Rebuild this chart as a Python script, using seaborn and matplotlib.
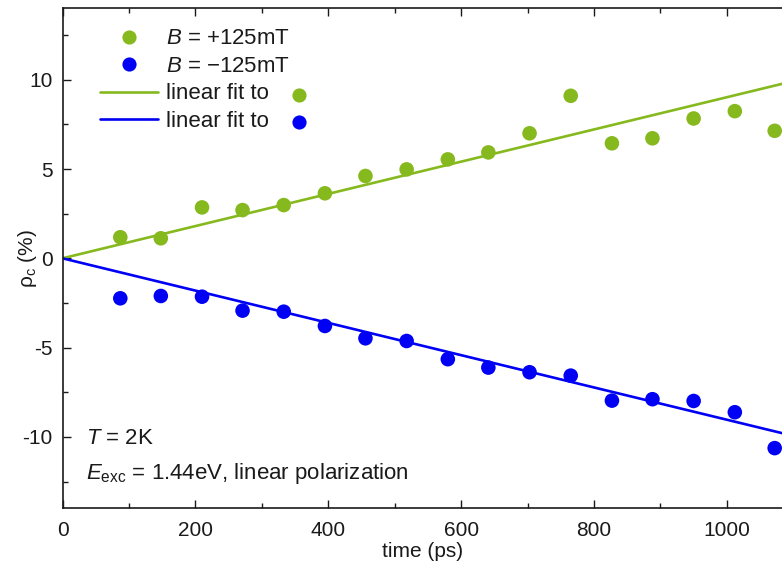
import numpy as np
import pandas as pd
import matplotlib
matplotlib.use("Agg")
import matplotlib.pyplot as plt
import seaborn as sns
from matplotlib.lines import Line2D
from matplotlib.ticker import MultipleLocator

# ---- data ----
time_ps = [87, 148, 210, 271, 333, 395, 456, 518, 580, 641, 703, 765, 827, 888, 950, 1012, 1072]
rho_plus = [1.18, 1.12, 2.85, 2.70, 2.98, 3.64, 4.61, 4.98, 5.54, 5.93, 7.00, 9.10, 6.44, 6.72, 7.83, 8.24, 7.14]
rho_minus = [-2.24, -2.11, -2.15, -2.93, -2.99, -3.79, -4.48, -4.63, -5.65, -6.12, -6.38, -6.57, -7.97, -7.89, -7.99, -8.62, -10.63]
fit_slopes = [0.00902, -0.00904]          # %/ps, linear fits through origin
fit_range = [0, 1083]
series_labels = ["$B$ = +125mT", "$B$ = \u2212125mT"]
fit_labels = ["linear fit to", "linear fit to"]
x_ticks = [0, 200, 400, 600, 800, 1000]
y_ticks = [-10, -5, 0, 5, 10]

GREEN = "#86B91E"
BLUE = "#0000F5"
INK = "#1a1a1a"

sns.set_theme(style="ticks")
plt.rcParams["font.family"] = ["Liberation Sans", "DejaVu Sans"]
plt.rcParams["mathtext.fontset"] = "custom"
plt.rcParams["mathtext.rm"] = "Liberation Sans"
plt.rcParams["mathtext.it"] = "Liberation Sans:italic"
plt.rcParams["mathtext.bf"] = "Liberation Sans:bold"
plt.rcParams["axes.unicode_minus"] = False
for k in ["text.color", "axes.labelcolor", "xtick.color", "ytick.color"]:
    plt.rcParams[k] = INK

fig = plt.figure(figsize=(7.82, 5.67), dpi=100)
W, H = 782, 567
left, right, top, bottom = 62.5, 782, 8.3, 508.3
ax = fig.add_axes([left / W, 1 - bottom / H, (right - left) / W, (bottom - top) / H])

df = pd.DataFrame({
    "time": time_ps * 2,
    "rho": rho_plus + rho_minus,
    "series": [series_labels[0]] * len(time_ps) + [series_labels[1]] * len(time_ps),
})
sns.scatterplot(data=df, x="time", y="rho", hue="series",
                palette={series_labels[0]: GREEN, series_labels[1]: BLUE},
                s=110, linewidth=0, ax=ax, legend=False, zorder=3)

fx = np.array(fit_range, dtype=float)
for slope, col in zip(fit_slopes, [GREEN, BLUE]):
    sns.lineplot(x=fx, y=slope * fx, color=col, linewidth=1.9, ax=ax, zorder=2)

ax.set_xlim(0, 1083)
ax.set_ylim(-14, 14)
ax.set_xticks(x_ticks)
ax.set_yticks(y_ticks)
ax.xaxis.set_minor_locator(MultipleLocator(100))
ax.yaxis.set_minor_locator(MultipleLocator(2.5))
ax.tick_params(which="both", direction="in", top=True, right=False, width=1.0, color=INK)
ax.tick_params(which="major", length=5.5, labelsize=15, pad=7)
ax.tick_params(which="minor", length=3.5)
ax.tick_params(axis="x", which="major", pad=9)
for s in ["left", "bottom", "top"]:
    ax.spines[s].set_linewidth(1.2)
    ax.spines[s].set_color(INK)
ax.spines["right"].set_visible(False)

ax.set_xlabel("time (ps)", fontsize=15)
ax.set_ylabel("\u03c1$_\\mathrm{c}$ (%)", fontsize=15)
ax.xaxis.set_label_coords(0.5, -0.068)
ax.yaxis.set_label_coords(-0.032, 0.5)

# legend
ms = 10.2
handles = [
    Line2D([], [], ls="none", marker="o", markersize=ms, markerfacecolor=GREEN, markeredgewidth=0),
    Line2D([], [], ls="none", marker="o", markersize=ms, markerfacecolor=BLUE, markeredgewidth=0),
    Line2D([], [], color=GREEN, lw=1.9),
    Line2D([], [], color=BLUE, lw=1.9),
]
leg = ax.legend(handles, series_labels + fit_labels, loc="upper left",
                bbox_to_anchor=((100 - left) / (right - left), (bottom - 28.5) / (bottom - top)),
                frameon=False, fontsize=16, handlelength=2.6, handletextpad=0.36,
                labelspacing=0.29, borderpad=0, borderaxespad=0)

ax.text((86 - left) / (right - left), (bottom - 438) / (bottom - top), "$T$ = 2K",
        transform=ax.transAxes, fontsize=16, va="center", ha="left")
ax.text((86 - left) / (right - left), (bottom - 479) / (bottom - top),
        "$E_{\\mathrm{exc}}$ = 1.44eV, linear polarization",
        transform=ax.transAxes, fontsize=16, va="baseline", ha="left")

# coloured dots after "linear fit to" entries, placed relative to the rendered legend text
fig.canvas.draw()
renderer = fig.canvas.get_renderer()
inv = ax.transAxes.inverted()
for txt, h in zip(leg.get_texts()[2:], leg.legend_handles[2:]):
    bb = txt.get_window_extent(renderer)
    px = bb.x1 + 30
    py = 0.5 * (bb.y0 + bb.y1) - 1
    axp = inv.transform((px, py))
    ax.plot([axp[0]], [axp[1]], ls="none", marker="o", markersize=ms,
            markerfacecolor=h.get_color(), markeredgewidth=0,
            transform=ax.transAxes, clip_on=False, zorder=5)

fig.savefig("out.png", dpi=100)
